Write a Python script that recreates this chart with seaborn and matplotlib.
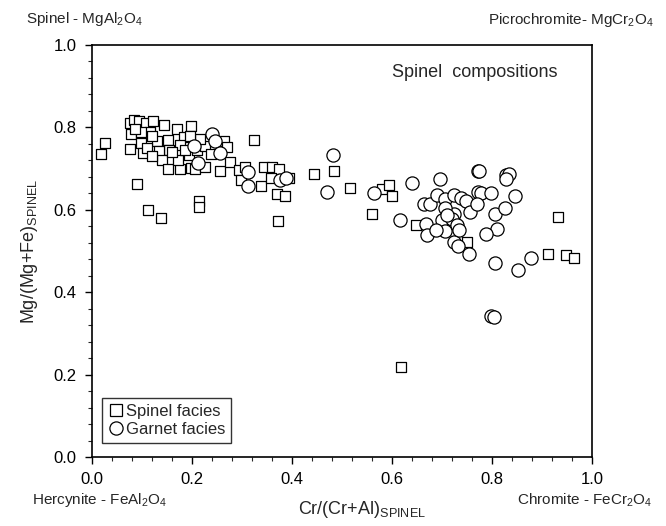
import matplotlib
matplotlib.use("Agg")
import matplotlib.pyplot as plt
import seaborn as sns
import pandas as pd
from matplotlib.ticker import MultipleLocator
from matplotlib.lines import Line2D

# ---- data ----
spinel_x = [0.018, 0.026, 0.089, 0.111, 0.137,
            0.075, 0.083, 0.093, 0.107, 0.115, 0.078, 0.097, 0.098, 0.075, 0.101,
            0.130, 0.143, 0.152, 0.153, 0.169, 0.183, 0.175, 0.133, 0.139, 0.152,
            0.175, 0.172, 0.193, 0.197, 0.197, 0.122, 0.085, 0.120, 0.110, 0.160,
            0.120, 0.185, 0.210, 0.225,
            0.216, 0.196, 0.263, 0.269, 0.238, 0.206, 0.226, 0.256, 0.276, 0.293,
            0.306, 0.298, 0.323, 0.338, 0.344, 0.359, 0.373, 0.358, 0.394, 0.369,
            0.385, 0.214, 0.214, 0.371,
            0.443, 0.484, 0.516, 0.559, 0.579, 0.594, 0.599, 0.648, 0.618, 0.749,
            0.931, 0.911, 0.948, 0.963]
spinel_y = [0.735, 0.763, 0.662, 0.600, 0.580,
            0.811, 0.819, 0.815, 0.811, 0.789, 0.784, 0.789, 0.762, 0.748, 0.738,
            0.766, 0.805, 0.769, 0.746, 0.797, 0.776, 0.758, 0.742, 0.720, 0.700,
            0.700, 0.720, 0.734, 0.803, 0.701, 0.815, 0.795, 0.780, 0.750, 0.740,
            0.730, 0.745, 0.745, 0.755,
            0.772, 0.778, 0.766, 0.753, 0.735, 0.700, 0.705, 0.694, 0.717, 0.697,
            0.705, 0.672, 0.769, 0.658, 0.705, 0.705, 0.700, 0.676, 0.676, 0.638,
            0.633, 0.621, 0.608, 0.573,
            0.686, 0.694, 0.654, 0.591, 0.650, 0.660, 0.634, 0.562, 0.218, 0.522,
            0.582, 0.493, 0.490, 0.482]

garnet_x = [0.239, 0.246, 0.255, 0.203, 0.212, 0.311, 0.311, 0.376, 0.388,
            0.481, 0.469, 0.564, 0.639, 0.615, 0.668, 0.670, 0.696, 0.663, 0.676,
            0.689, 0.705, 0.723, 0.737, 0.748, 0.756, 0.723, 0.706, 0.700, 0.719,
            0.729, 0.705, 0.688, 0.723, 0.732, 0.753, 0.771, 0.771, 0.774, 0.828,
            0.833, 0.828, 0.777, 0.797, 0.846, 0.769, 0.806, 0.826, 0.809, 0.787,
            0.806, 0.851, 0.877, 0.798, 0.804, 0.709, 0.733]
garnet_y = [0.783, 0.768, 0.737, 0.754, 0.713, 0.691, 0.657, 0.673, 0.676,
            0.733, 0.644, 0.640, 0.666, 0.576, 0.566, 0.539, 0.674, 0.613, 0.613,
            0.637, 0.627, 0.637, 0.628, 0.621, 0.595, 0.591, 0.604, 0.576, 0.577,
            0.562, 0.549, 0.550, 0.521, 0.513, 0.493, 0.693, 0.644, 0.694, 0.684,
            0.686, 0.674, 0.641, 0.641, 0.633, 0.614, 0.591, 0.604, 0.553, 0.541,
            0.470, 0.454, 0.482, 0.342, 0.340, 0.587, 0.551]

x_ticks = [0.0, 0.2, 0.4, 0.6, 0.8, 1.0]
y_ticks = [0.0, 0.2, 0.4, 0.6, 0.8, 1.0]

spinel_df = pd.DataFrame({"x": spinel_x, "y": spinel_y})
garnet_df = pd.DataFrame({"x": garnet_x, "y": garnet_y})

sns.set_style("white")
plt.rcParams["font.family"] = ["Liberation Sans", "DejaVu Sans"]
plt.rcParams["mathtext.fontset"] = "custom"
plt.rcParams["mathtext.rm"] = "Liberation Sans"
plt.rcParams["mathtext.it"] = "Liberation Sans"

fig = plt.figure(figsize=(6.66, 5.26), dpi=100)
ax = fig.add_axes([92/666, 1-457/526, 500/666, 412/526])

sns.scatterplot(data=spinel_df, x="x", y="y", marker="s", s=60,
                facecolor="white", edgecolor="black", linewidth=0.9, ax=ax, zorder=3)
sns.scatterplot(data=garnet_df, x="x", y="y", marker="o", s=90,
                facecolor="white", edgecolor="black", linewidth=0.9, ax=ax, zorder=4)

ax.set_xlim(0, 1)
ax.set_ylim(0, 1)
ax.set_xticks(x_ticks)
ax.set_yticks(y_ticks)
ax.set_xticklabels([f"{v:.1f}" for v in x_ticks])
ax.set_yticklabels([f"{v:.1f}" for v in y_ticks])
ax.xaxis.set_minor_locator(MultipleLocator(0.04))
ax.yaxis.set_minor_locator(MultipleLocator(0.04))
ax.tick_params(axis="both", which="major", direction="out", length=5, width=1,
               labelsize=12, colors="black", bottom=True, left=True)
ax.tick_params(axis="x", which="major", pad=6)
ax.tick_params(axis="y", which="major", pad=6)
ax.tick_params(axis="both", which="minor", direction="out", length=3, width=0.8,
               bottom=True, left=True)
for sp in ax.spines.values():
    sp.set_visible(True)
    sp.set_color("black")
    sp.set_linewidth(1.2)

ax.set_xlabel(r"Cr/(Cr+Al)$_{\mathrm{SPINEL}}$", fontsize=13)
ax.xaxis.set_label_coords((362-92)/500, (457-510)/412)
ax.xaxis.label.set_va("center")
ax.set_ylabel(r"Mg/(Mg+Fe)$_{\mathrm{SPINEL}}$", fontsize=13)
ax.yaxis.set_label_coords((30-92)/500, 0.5)
ax.yaxis.label.set_va("center")

ax.text(0.93, 0.934, "Spinel  compositions", transform=ax.transAxes,
        ha="right", va="center", fontsize=13)

fig.text(26/666, 1-19/526, r"Spinel - MgAl$_2$O$_4$", ha="left", va="center", fontsize=11)
fig.text(654/666, 1-20/526, r"Picrochromite- MgCr$_2$O$_4$", ha="right", va="center", fontsize=11)
fig.text(32/666, 1-500/526, r"Hercynite - FeAl$_2$O$_4$", ha="left", va="center", fontsize=11)
fig.text(652/666, 1-500/526, r"Chromite - FeCr$_2$O$_4$", ha="right", va="center", fontsize=11)

handles = [Line2D([], [], marker="s", linestyle="none", markerfacecolor="white",
                  markeredgecolor="black", markersize=8, markeredgewidth=0.9),
           Line2D([], [], marker="o", linestyle="none", markerfacecolor="white",
                  markeredgecolor="black", markersize=9.5, markeredgewidth=0.9)]
leg = ax.legend(handles, ["Spinel facies", "Garnet facies"], loc="lower left",
                bbox_to_anchor=(0.02, 0.034), frameon=True, fancybox=False,
                edgecolor="black", fontsize=12, handletextpad=0.1,
                handlelength=1.0, borderpad=0.35, labelspacing=0.2, borderaxespad=0)
leg.get_frame().set_linewidth(1.0)

fig.savefig("out.png", dpi=100)
